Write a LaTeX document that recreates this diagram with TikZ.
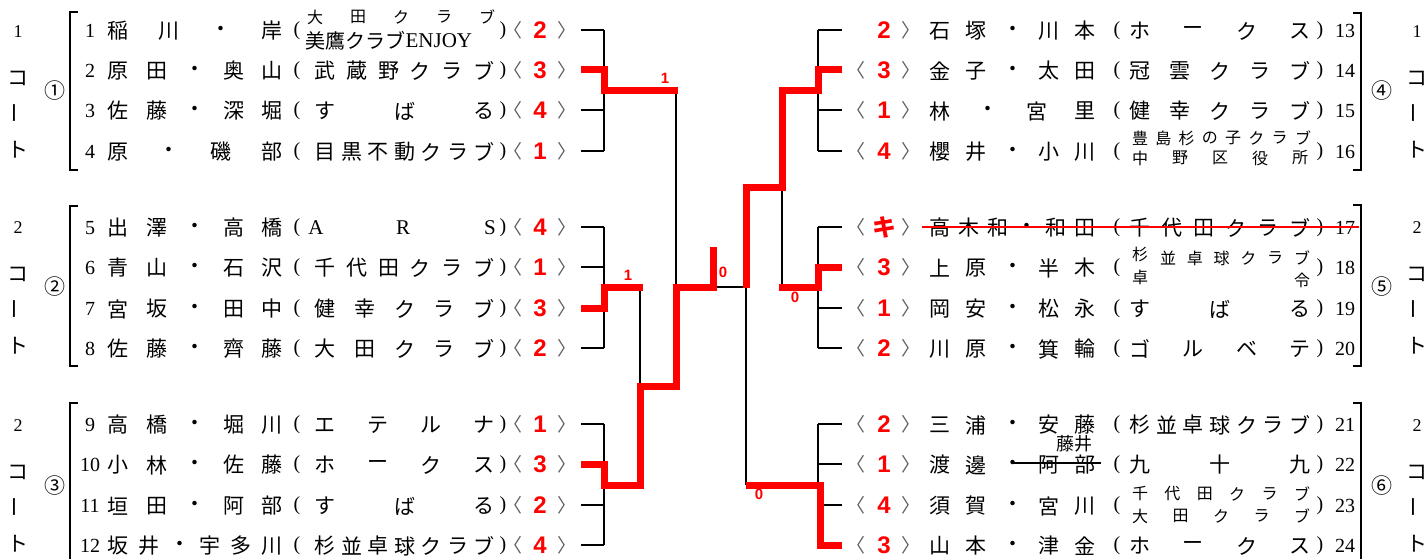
\documentclass[tikz,border=0pt]{standalone}
\usepackage{fontspec}
\setmainfont{Liberation Serif}
\newfontfamily\jp{Noto Sans CJK JP}
\newfontfamily\rdf{Liberation Sans}
\definecolor{rd}{RGB}{255,0,0}
\definecolor{gy}{RGB}{95,95,95}
\tikzset{
  bk/.style={line width=2.5pt,black},
  br/.style={line width=2pt,black},
  rl/.style={line width=7pt,rd,line join=miter},
  sk/.style={line width=1.3pt},
  jc/.style={inner sep=0pt,font=\jp\fontsize{21}{21}\selectfont},
  js/.style={inner sep=0pt,font=\jp\fontsize{16}{16}\selectfont},
  num/.style={inner sep=0pt,font=\fontsize{20}{20}\selectfont},
  cd/.style={inner sep=0pt,font=\fontsize{18}{18}\selectfont},
  par/.style={inner sep=0pt,font=\fontsize{20}{20}\selectfont},
  lat/.style={inner sep=0pt,font=\fontsize{21}{21}\selectfont},
  sc/.style={inner sep=0pt,text=rd,font=\rdf\bfseries\fontsize{24}{24}\selectfont},
  lbl/.style={inner sep=0pt,text=rd,font=\rdf\bfseries\fontsize{15}{15}\selectfont},
  ang/.style={inner sep=0pt,text=gy,font=\jp\fontsize{19}{19}\selectfont},
}
% distributed characters: #1 prefix, #2 style, #3 x1, #4 x2, #5 y, #6 n, #7 list
\newcommand\spr[7]{%
  \foreach \ch [count=\i] in {#7}{%
    \pgfmathsetmacro\xx{#3+(\i-1)*(#4-#3)/(#6-1)}%
    \node[#2] (#1-\i) at (\xx,#5) {\ch};}%
}
\newcommand\Lsc[3]{%
  \node[ang] (#1a) at (513,#2) {〈};
  \node[sc] (#1s) at (540,#2) {#3};
  \node[ang] (#1b) at (567,#2) {〉};}
\newcommand\Rsc[3]{%
  \node[ang] (#1a) at (856,#2) {〈};
  \node[sc] (#1s) at (884,#2) {#3};
  \node[ang] (#1b) at (911,#2) {〉};}
% #1 id, #2 y, #3 n names, #4 names, #5 n club, #6 club, #7 score
\newcommand\Lrow[7]{%
  \node[num] (ln#1) at (90,#2+1) {#1};
  \spr{lname#1}{jc}{118}{272}{#2+1}{#3}{#4}
  \node[par] (lp#1) at (297,#2+1) {(};
  \ifnum#5>0 \spr{lclub#1}{jc}{325}{484}{#2+1}{#5}{#6}\fi
  \node[par] (lq#1) at (503,#2+1) {)};
  \Lsc{ls#1}{#2}{#7}}
\newcommand\Rrow[6]{%
  \spr{rname#1}{jc}{940}{1085}{#2+1}{#3}{#4}
  \node[par] (rp#1) at (1117,#2+1) {(};
  \ifnum#5>0 \spr{rclub#1}{jc}{1140}{1300}{#2+1}{#5}{#6}\fi
  \node[par] (rq#1) at (1320,#2+1) {)};
  \node[num] (rn#1) at (1345,#2+1) {#1};}
% court label: #1 id, #2 x, #3 centre y, #4 digit
\newcommand\court[4]{%
  \node[cd] (c#1d) at (#2,#3-59) {#4};
  \node[jc] (c#1k) at (#2,#3-13) {コ};
  \node[jc,rotate=90] (c#1b) at (#2,#3+22) {ー};
  \node[jc] (c#1t) at (#2,#3+59) {ト};}

\begin{document}
\begin{tikzpicture}[x=1pt,y=-1pt]
\useasboundingbox (0,0) rectangle (1427,559);
\fill[white] (0,0) rectangle (1427,559);

% court labels and circled numbers
\court{L1}{18}{91}{1}
\court{L2}{18}{287}{2}
\court{L3}{18}{485}{2}
\court{R1}{1417}{91}{1}
\court{R2}{1417}{287}{2}
\court{R3}{1417}{485}{2}
\node[jc] (o1) at (55,91) {①};
\node[jc] (o2) at (55,287) {②};
\node[jc] (o3) at (55,486) {③};
\node[jc] (o4) at (1382,91) {④};
\node[jc] (o5) at (1382,287) {⑤};
\node[jc] (o6) at (1382,486) {⑥};

% square brackets
\draw[br] (78,12) -- (70,12) -- (70,170) -- (78,170);
\draw[br] (78,206) -- (70,206) -- (70,366) -- (78,366);
\draw[br] (78,403) -- (70,403) -- (70,575);
\draw[br] (1353,13) -- (1361,13) -- (1361,170) -- (1353,170);
\draw[br] (1353,205) -- (1361,205) -- (1361,366) -- (1353,366);
\draw[br] (1353,403) -- (1361,403) -- (1361,575);

% left entries
\Lrow{1}{30}{4}{稲,川,・,岸}{0}{}{2}
\spr{lc1t}{js}{315}{487}{17}{5}{大,田,ク,ラ,ブ}
\node[inner sep=0pt,anchor=west,font=\jp\fontsize{20}{20}\selectfont] (lc1b) at (305,41) {美鷹クラブ};
\node[lat,anchor=west] (lc1e) at (lc1b.east) {ENJOY};
\Lrow{2}{70}{5}{原,田,・,奥,山}{6}{武,蔵,野,ク,ラ,ブ}{3}
\Lrow{3}{110}{5}{佐,藤,・,深,堀}{3}{す,ば,る}{4}
\Lrow{4}{151}{4}{原,・,磯,部}{7}{目,黒,不,動,ク,ラ,ブ}{1}
\Lrow{5}{227}{5}{出,澤,・,高,橋}{0}{}{4}
\spr{lclub5}{lat}{316}{490}{228}{3}{A,R,S}
\Lrow{6}{267}{5}{青,山,・,石,沢}{6}{千,代,田,ク,ラ,ブ}{1}
\Lrow{7}{308}{5}{宮,坂,・,田,中}{5}{健,幸,ク,ラ,ブ}{3}
\Lrow{8}{348}{5}{佐,藤,・,齊,藤}{5}{大,田,ク,ラ,ブ}{2}
\Lrow{9}{424}{5}{高,橋,・,堀,川}{4}{エ,テ,ル,ナ}{1}
\Lrow{10}{464}{5}{小,林,・,佐,藤}{4}{ホ,ー,ク,ス}{3}
\Lrow{11}{505}{5}{垣,田,・,阿,部}{3}{す,ば,る}{2}
\Lrow{12}{545}{6}{坂,井,・,宇,多,川}{7}{杉,並,卓,球,ク,ラ,ブ}{4}

% right entries
\Rrow{13}{30}{5}{石,塚,・,川,本}{4}{ホ,ー,ク,ス}
\node[sc] (rs13s) at (884,30) {2};
\node[ang] (rs13b) at (911,30) {〉};
\Rrow{14}{70}{5}{金,子,・,太,田}{5}{冠,雲,ク,ラ,ブ}
\Rsc{rs14}{70}{3}
\Rrow{15}{110}{4}{林,・,宮,里}{5}{健,幸,ク,ラ,ブ}
\Rsc{rs15}{110}{1}
\Rrow{16}{151}{5}{櫻,井,・,小,川}{0}{}
\Rsc{rs16}{151}{4}
\spr{rc16t}{js}{1140}{1303}{138}{8}{豊,島,杉,の,子,ク,ラ,ブ}
\spr{rc16b}{js}{1140}{1300}{158}{5}{中,野,区,役,所}
\Rrow{17}{227}{6}{高,木,和,・,和,田}{6}{千,代,田,ク,ラ,ブ}
\Rsc{rs17}{227}{\jp\bfseries キ}
\Rrow{18}{267}{5}{上,原,・,半,木}{0}{}
\Rsc{rs18}{267}{3}
\node[js] (rc18a) at (1140,254) {杉};
\spr{rc18t}{js}{1168}{1302}{258}{6}{並,卓,球,ク,ラ,ブ}
\node[js] (rc18b) at (1140,277) {卓};
\node[js] (rc18c) at (1302,280) {令};
\Rrow{19}{308}{5}{岡,安,・,松,永}{3}{す,ば,る}
\Rsc{rs19}{308}{1}
\Rrow{20}{348}{5}{川,原,・,箕,輪}{4}{ゴ,ル,ベ,テ}
\Rsc{rs20}{348}{2}
\Rrow{21}{424}{5}{三,浦,・,安,藤}{7}{杉,並,卓,球,ク,ラ,ブ}
\Rsc{rs21}{424}{2}
\Rrow{22}{464}{5}{渡,邊,・,阿,部}{3}{九,十,九}
\Rsc{rs22}{464}{1}
\Rrow{23}{505}{5}{須,賀,・,宮,川}{0}{}
\Rsc{rs23}{505}{4}
\spr{rc23t}{js}{1140}{1302}{494}{6}{千,代,田,ク,ラ,ブ}
\spr{rc23b}{js}{1140}{1302}{516}{5}{大,田,ク,ラ,ブ}
\Rrow{24}{545}{5}{山,本,・,津,金}{4}{ホ,ー,ク,ス}
\Rsc{rs24}{545}{3}

% strike-outs and correction
\coordinate (s17a) at (922,227);
\coordinate (s17b) at (1359,227);
\draw[sk,rd] (s17a) -- (s17b);
\coordinate (s22a) at (1013,463);
\coordinate (s22b) at (1101,463);
\draw[sk] (s22a) -- (s22b);
\node[inner sep=0pt,font=\jp\fontsize{18}{18}\selectfont] (fujii) at (1074,444) {藤井};

% bracket: row stubs
\foreach \yy [count=\k] in {30,70,110,151,227,267,308,348,424,464,505,545} {
  \coordinate (L\k) at (581,\yy);
  \coordinate (R\k) at (842,\yy);
  \draw[bk] (L\k) -- ++(23,0);
  \draw[bk] (R\k) -- ++(-24,0);
}
\draw[bk] (604,30) -- (604,151);
\draw[bk] (604,227) -- (604,348);
\draw[bk] (604,424) -- (604,545);
\draw[bk] (818,30) -- (818,151);
\draw[bk] (818,227) -- (818,348);
\draw[bk] (818,424) -- (818,545);
\draw[bk] (676,91) -- (676,386);
\draw[bk] (640,287) -- (640,485);
\draw[bk] (676,287) -- (746,287);
\draw[bk] (746,187) -- (746,485);
\draw[bk] (782,91) -- (782,287);

% round results
\node[lbl] (w1) at (665,78) {1};
\node[lbl] (w2) at (628,275) {1};
\node[lbl] (w3) at (723,272) {0};
\node[lbl] (w4) at (795,297) {0};
\node[lbl] (w5) at (759,494) {0};

% winners' paths
\draw[rl] (L2) -- (604,70) -- (604,91) -- (678,91);
\draw[rl] (L7) -- (604,308) -- (604,287) -- (643,287);
\draw[rl] (L10) -- (604,464) -- (604,485) -- (640,485) -- (640,386) -- (676,386) -- (676,287) -- (713,287) -- (713,247);
\draw[rl] (R2) -- (818,70) -- (818,91) -- (782,91) -- (782,187) -- (746,187) -- (746,288);
\draw[rl] (R6) -- (818,267) -- (818,287) -- (779,287);
\draw[rl] (R12) -- (820,545) -- (820,485) -- (746,485);
\end{tikzpicture}
\end{document}
